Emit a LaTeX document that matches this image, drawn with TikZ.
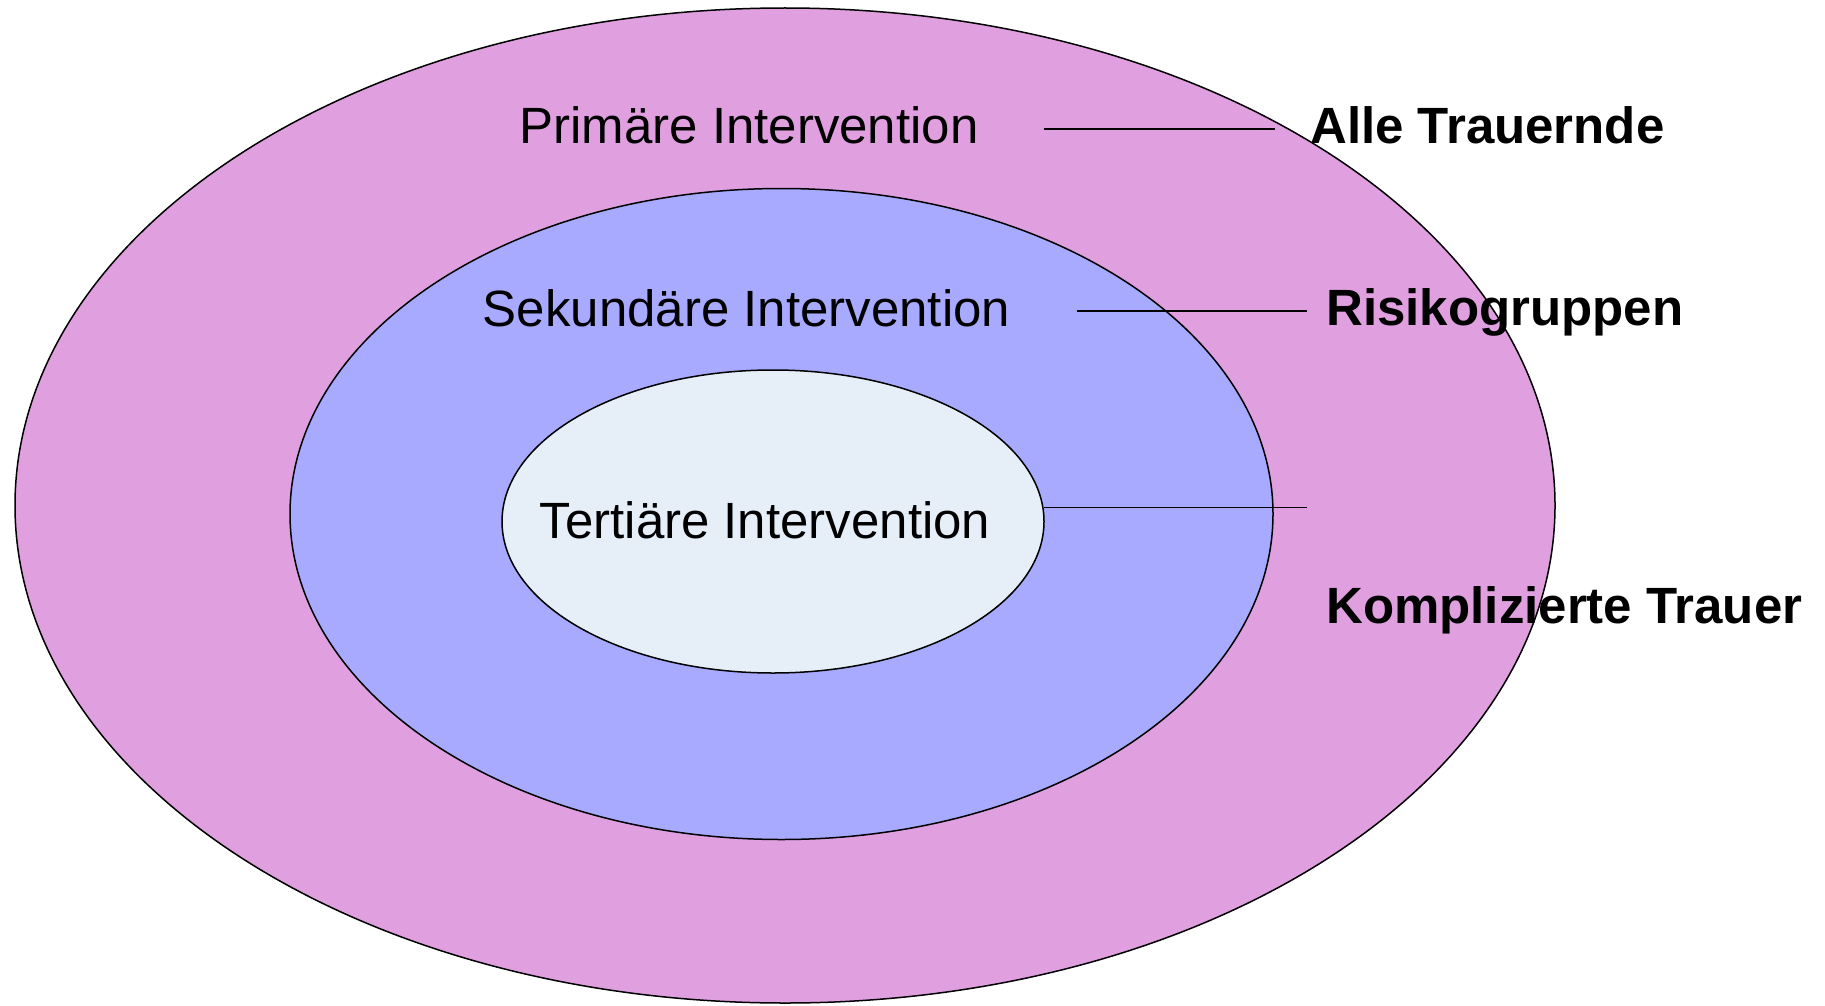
\documentclass[tikz,border=0pt]{standalone}
\usepackage{fontspec}
\setmainfont{Liberation Sans}
\usetikzlibrary{shapes.geometric}
\definecolor{pinkfill}{RGB}{224,160,224}
\definecolor{bluefill}{RGB}{168,170,255}
\definecolor{lightfill}{RGB}{230,238,248}
\tikzset{
  ring/.style={draw=black, line width=1.5pt, shape=ellipse, inner sep=0pt},
  lbl/.style={font=\fontsize{51}{61}\selectfont, inner sep=0pt, anchor=base},
  grp/.style={font=\fontsize{51}{61}\selectfont\bfseries, inner sep=0pt, anchor=base west},
  lead/.style={draw=black, line width=1.5pt}
}
\begin{document}
\begin{tikzpicture}[x=1pt,y=-1pt]
\useasboundingbox (0,0) rectangle (1825,1006);
\node[ring, fill=pinkfill, minimum width=1540pt, minimum height=995pt] (outer) at (785,505.5) {};
\node[ring, fill=bluefill, minimum width=983pt, minimum height=651pt] (middle) at (781.5,514) {};
\node[ring, fill=lightfill, minimum width=542pt, minimum height=303pt] (inner) at (773,521.5) {};

\node[lbl] (prim) at (749,143.5) {Primäre Intervention};
\node[lbl] (sek) at (746.5,326) {Sekundäre Intervention};
\node[lbl] (tert) at (765,538.5) {Tertiäre Intervention};

\node[grp] (alle) at (1310,143.5) {Alle Trauernde};
\node[grp] (risk) at (1326,325.5) {Risikogruppen};
\node[grp] (kompl) at (1326,623) {Komplizierte Trauer};

\coordinate (l1a) at (1044,129.2);
\coordinate (l1b) at (1274.5,129.2);
\coordinate (l2a) at (1076.6,310.8);
\coordinate (l2b) at (1307,310.8);
\coordinate (l3a) at (1044,507.5);
\coordinate (l3b) at (1307,507.5);
\draw[lead] (l1a) -- (l1b);
\draw[lead] (l2a) -- (l2b);
\draw[lead] (l3a) -- (l3b);
\end{tikzpicture}
\end{document}
